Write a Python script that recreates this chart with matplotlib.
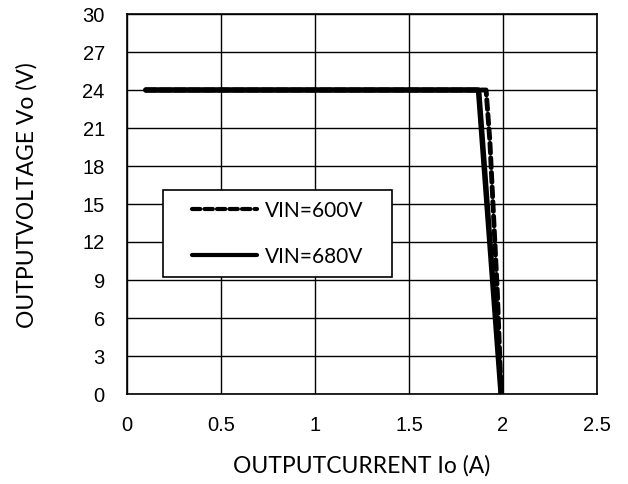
import matplotlib
matplotlib.use("Agg")
from matplotlib import pyplot as plt
from matplotlib.legend_handler import HandlerLine2D

plt.rcParams['font.family'] = ['Liberation Sans', 'DejaVu Sans']

# VIN=600V (dashed)
io_600 = [0.1, 1.0, 1.91, 1.93, 1.95, 1.97, 1.99]
vo_600 = [24, 24, 24, 20, 14, 8, 0]
# VIN=680V (solid)
io_680 = [0.1, 1.0, 1.87, 1.99]
vo_680 = [24, 24, 24, 0]

x_ticks = [0, 0.5, 1, 1.5, 2, 2.5]
x_labels = ["0", "0.5", "1", "1.5", "2", "2.5"]
y_ticks = list(range(0, 31, 3))

fig = plt.figure(figsize=(6.28, 4.84), dpi=100)
ax = fig.add_axes([127/628, 1-394/484, 470/628, 380/484])

ax.plot(io_600, vo_600, color="black", linewidth=3.5, linestyle=(0, (2, 1)), label="VIN=600V",
        solid_capstyle="round", dash_capstyle="round")
ax.plot(io_680, vo_680, color="black", linewidth=4, label="VIN=680V", solid_capstyle="round")

ax.set_xlim(0, 2.5)
ax.set_ylim(0, 30)
ax.set_xticks(x_ticks)
ax.set_xticklabels(x_labels)
ax.set_yticks(y_ticks)
ax.grid(True, color="black", linewidth=1)
ax.set_axisbelow(True)
ax.tick_params(length=0, labelsize=14.5)
ax.tick_params(axis="x", pad=16)
ax.tick_params(axis="y", pad=16)
for s in ax.spines.values():
    s.set_linewidth(1.2)

lab_font = ["Lato", "DejaVu Sans"]
ax.set_xlabel("OUTPUTCURRENT Io (A)", fontsize=16.5, family=lab_font, va="center")
ax.set_ylabel("OUTPUTVOLTAGE Vo (V)", fontsize=16.5, family=lab_font, va="center")
ax.xaxis.set_label_coords(0.5, (394-466)/380)
ax.yaxis.set_label_coords((27-127)/470, (394-195)/380)

fs = 15 * 100 / 72
leg = ax.legend(loc="lower left", bbox_to_anchor=(0.077, 0.308, 0.487, 0.231), mode="expand",
                fancybox=False, framealpha=1, edgecolor="black",
                prop={"family": lab_font, "size": 15},
                handlelength=(18+65)/fs, handletextpad=8/fs, borderaxespad=0, labelspacing=1.25,
                borderpad=0.5,
                handler_map={plt.Line2D: HandlerLine2D(xpad=18/fs)})
leg.get_frame().set_linewidth(1.2)
for h in leg.get_lines():
    h.set_linewidth(3)

fig.savefig("out.png", dpi=100)
